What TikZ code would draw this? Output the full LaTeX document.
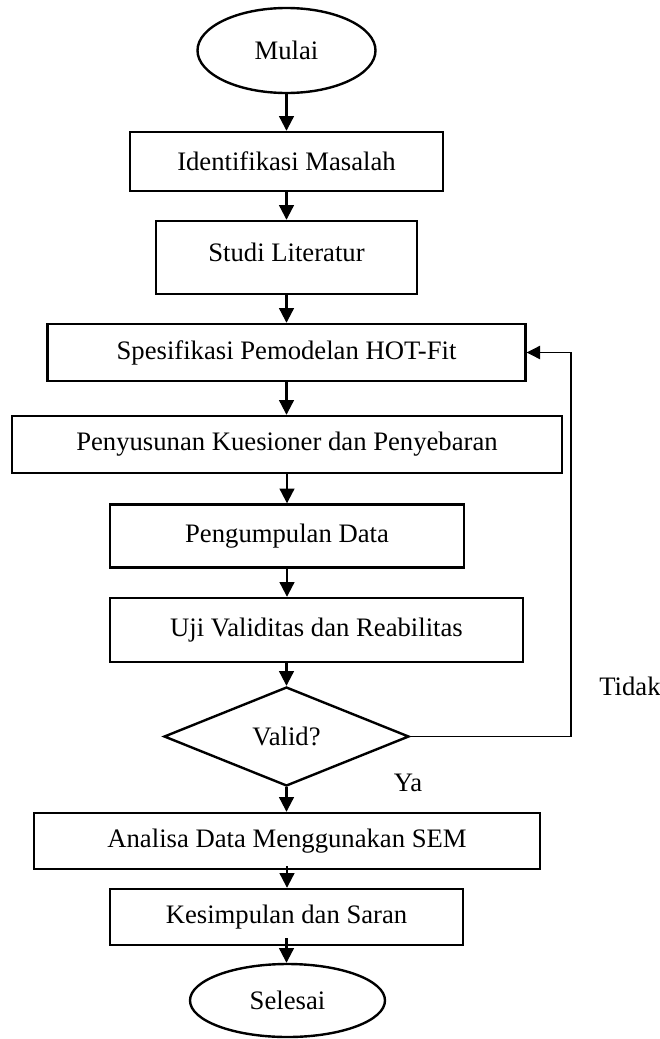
\documentclass[tikz,border=0pt]{standalone}
\usepackage{fontspec}
\setmainfont{Liberation Serif}
\usetikzlibrary{shapes.geometric,arrows.meta}
\begin{document}
\begin{tikzpicture}[x=0.75pt,y=-0.75pt,
  txt/.style={font=\fontsize{20}{24}\selectfont},
  box/.style={txt,draw,line width=1.8pt,inner sep=0pt},
  term/.style={txt,draw,ellipse,line width=1.8pt,inner sep=0pt},
  dec/.style={txt,draw,diamond,line width=1.8pt,inner sep=0pt},
  arr/.style={line width=1.6pt,-{Triangle[length=11pt,width=11pt]}},
  fb/.style={line width=0.8pt,-{Triangle[length=10pt,width=10pt]}}]
\useasboundingbox (0,0) rectangle (660,1039);
\node[term,minimum width=178*0.75pt,minimum height=85*0.75pt] (s) at (286.5,50.5) {Mulai};
\node[box,minimum width=313*0.75pt,minimum height=59*0.75pt] (b1) at (286.5,161.5) {Identifikasi Masalah};
\node[box,minimum width=261*0.75pt,minimum height=73*0.75pt,text depth=8pt] (b2) at (286.5,257.5) {Studi Literatur};
\node[box,minimum width=478*0.75pt,minimum height=57*0.75pt] (b3) at (286.5,352.5) {Spesifikasi Pemodelan HOT-Fit};
\node[box,minimum width=550*0.75pt,minimum height=57*0.75pt] (b4) at (287,444.5) {Penyusunan Kuesioner dan Penyebaran};
\node[box,minimum width=354*0.75pt,minimum height=63*0.75pt] (b5) at (287,536) {Pengumpulan Data};
\node[box,minimum width=413*0.75pt,minimum height=64*0.75pt] (b6) at (316.5,630) {Uji Validitas dan Reabilitas};
\node[dec,minimum width=245*0.75pt,minimum height=99*0.75pt,aspect=2.47] (d) at (286.5,736.5) {Valid?};
\node[box,minimum width=506*0.75pt,minimum height=56*0.75pt] (b7) at (287,841) {Analisa Data Menggunakan SEM};
\node[box,minimum width=353*0.75pt,minimum height=56*0.75pt] (b8) at (286.5,917) {Kesimpulan dan Saran};
\node[term,minimum width=195*0.75pt,minimum height=73*0.75pt] (e) at (287.5,1000.5) {Selesai};
\node[txt] (tidak) at (630,686) {Tidak};
\node[txt] (ya) at (408,783) {Ya};
\coordinate (fbc) at (571,736.5);
\draw[arr] (s.south) -- (s.south |- b1.north);
\draw[arr] (b1.south) -- (b1.south |- b2.north);
\draw[arr] (b2.south) -- (b2.south |- b3.north);
\draw[arr] (b3.south) -- (b3.south |- b4.north);
\draw[arr] (b4.south) -- (b4.south |- b5.north);
\draw[arr] (b5.south) -- (b5.south |- b6.north);
\draw[arr] (b6.south -| d.north) -- (d.north);
\draw[arr] (d.south) -- (d.south |- b7.north);
\draw[arr] ([yshift=3pt]b7.south) -- (b7.south |- b8.north);
\draw[arr] ([yshift=6pt]b8.south) -- (b8.south |- e.north);
\draw[fb] (d.east) -- (fbc) |- (b3.east);
\end{tikzpicture}
\end{document}
